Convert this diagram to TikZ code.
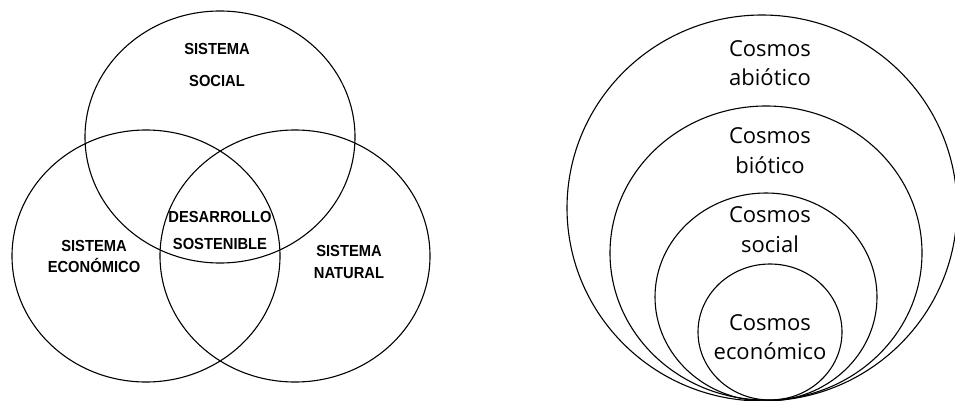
\documentclass[tikz,border=0pt]{standalone}
\usepackage{fontspec}
\usepackage{tikz}
\usetikzlibrary{shapes.geometric}
\newfontfamily\vennfont[FakeStretch=0.92]{Liberation Sans}
\newfontfamily\cosmosfont{Open Sans}
\newcommand{\vennsize}[1]{\fontsize{16}{#1}\selectfont\vennfont\bfseries}
\newcommand{\cosmossize}{\fontsize{22}{29.5}\selectfont\cosmosfont}

\begin{document}
\begin{tikzpicture}[
    x=1pt, y=-1pt,
    ring/.style={ellipse, draw=black, line width=1.1pt, inner sep=0pt},
    vlbl/.style={align=center, inner sep=0pt, text=black},
    clbl/.style={align=center, inner sep=0pt, text=black, font=\cosmossize}
]
\useasboundingbox (0,0) rectangle (955,401);

% Venn diagram
\node[ring, minimum width=270pt, minimum height=252pt] (social)    at (220,137) {};
\node[ring, minimum width=268pt, minimum height=252pt] (economico) at (146,256) {};
\node[ring, minimum width=270pt, minimum height=252pt] (natural)   at (295,256) {};

\node[vlbl, font=\vennsize{32}] (lsocial)    at (217,65)    {SISTEMA\\SOCIAL};
\node[vlbl, font=\vennsize{21}] (leconomico) at (94,256.5)  {SISTEMA\\ECONÓMICO};
\node[vlbl, font=\vennsize{27}] (ldesarr)    at (220,230.5) {DESARROLLO\\SOSTENIBLE};
\node[vlbl, font=\vennsize{22}] (lnatural)   at (349,262)   {SISTEMA\\NATURAL};

% Nested cosmos
\node[ring, minimum width=390pt, minimum height=386pt] (abiotico) at (762,208) {};
\node[ring, minimum width=312pt, minimum height=294pt] (biotico)  at (766,253) {};
\node[ring, minimum width=222pt, minimum height=208pt] (csocial)  at (766,297) {};
\node[ring, minimum width=144pt, minimum height=136pt] (ceconom)  at (770,332) {};

\node[clbl] (labiotico) at (770,63)    {Cosmos\\abiótico};
\node[clbl] (lbiotico)  at (770,150.5) {Cosmos\\biótico};
\node[clbl] (lcsocial)  at (770,229.5) {Cosmos\\social};
\node[clbl] (lceconom)  at (770,337)   {Cosmos\\económico};

\end{tikzpicture}
\end{document}
